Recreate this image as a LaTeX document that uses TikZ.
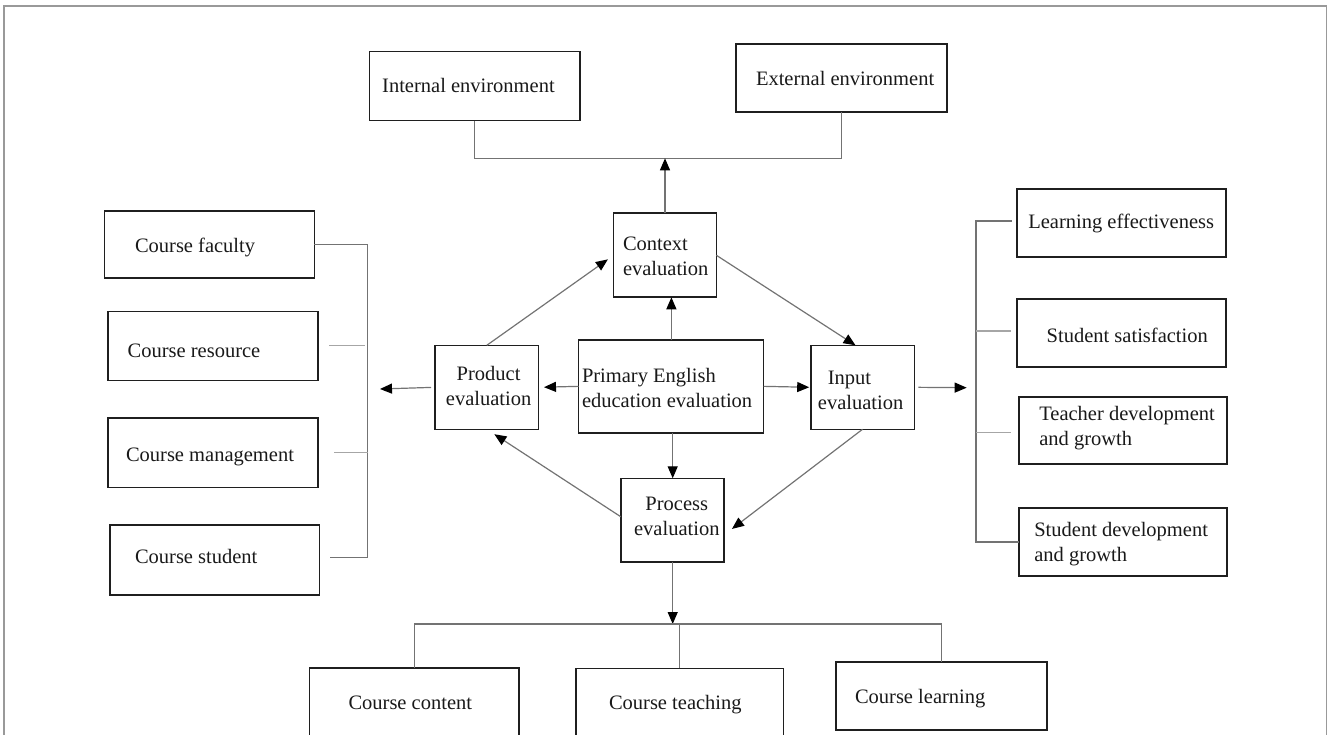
\documentclass[tikz,border=0pt]{standalone}
\usepackage{fontspec}
\setmainfont{Liberation Serif}
\usetikzlibrary{arrows.meta,fit}
\newcommand\mkbox[5]{\node[box, fit={(#2,#3) (#4,#5)}] (#1) {};}
\begin{document}
\begin{tikzpicture}[x=1pt,y=-1pt,
  box/.style={draw=black!88, line width=1.6pt, inner sep=0pt, outer sep=0pt},
  txt/.style={inner sep=0pt, outer sep=0pt, font=\fontsize{20.5}{25}\selectfont, text height=13pt, text depth=1pt, text=black!90},
  lt/.style={txt, anchor=west, align=left},
  ct/.style={txt, align=center},
  con/.style={draw=black!55, line width=1.2pt},
  stub/.style={draw=black!35, line width=1.2pt},
  arr/.style={draw=black!55, line width=1.2pt, -{Triangle[length=12pt,width=10pt,color=black]}},
  frame/.style={draw=black!40, line width=1.8pt}
]
\path[use as bounding box] (0,0) rectangle (1328,735);
\clip (0,0) rectangle (1328,735);

% frame
\draw[frame] (4,740) -- (4,6) -- (1326.5,6) -- (1326.5,740);

% boxes
\mkbox{ie}{369.6}{51.7}{580}{120.7}
\mkbox{ee}{735.8}{44.3}{946.7}{112.3}
\mkbox{ctx}{613.6}{213.3}{716.4}{297.3}
\mkbox{prod}{435}{345.3}{538.6}{429.3}
\mkbox{prim}{578.6}{340}{763.6}{432.7}
\mkbox{inp}{810.7}{345.3}{914.3}{429.3}
\mkbox{proc}{620.7}{478.3}{724}{561.7}
\mkbox{cf}{104.3}{211}{314.3}{278.3}
\mkbox{cr}{107.7}{311.7}{318}{380.3}
\mkbox{cm}{107.7}{418}{318}{487.3}
\mkbox{cs}{110}{525}{319.3}{595}
\mkbox{le}{1016.7}{189}{1225.7}{257}
\mkbox{ss}{1017}{299}{1226}{366.7}
\mkbox{td}{1019}{396.7}{1227}{464}
\mkbox{sd}{1019}{508}{1227}{576}
\mkbox{cc}{309.5}{667.7}{519}{760}
\mkbox{cte}{576}{668.3}{783.5}{760}
\mkbox{cl}{836}{661.7}{1046.8}{730}

% texts
\node[lt] (tie) at (382.2,86.7) {Internal environment};
\node[lt] (tee) at (756,80) {External environment};
\node[lt] (tctx) at (623,269.2) {Context\\evaluation};
\node[ct] (tprod) at (488.6,399.5) {Product\\evaluation};
\node[lt] (tprim) at (582,401.2) {Primary English\\education evaluation};
\node[lt] (tinp) at (817.9,403.7) {\hspace{10pt}Input\\evaluation};
\node[ct] (tproc) at (676.8,529.5) {Process\\evaluation};
\node[lt] (tcf) at (135,246.7) {Course faculty};
\node[lt] (tcr) at (127.7,351.7) {Course resource};
\node[lt] (tcm) at (126,455) {Course management};
\node[lt] (tcs) at (135,557.3) {Course student};
\node[lt] (tle) at (1028.3,222.7) {Learning effectiveness};
\node[lt] (tss) at (1046.7,336) {Student satisfaction};
\node[lt] (ttd) at (1039.3,439.2) {Teacher development\\and growth};
\node[lt] (tsd) at (1034.3,555.3) {Student development\\and growth};
\node[lt] (tcc) at (348.5,703) {Course content};
\node[lt] (tcte) at (609,703) {Course teaching};
\node[lt] (tcl) at (855,697) {Course learning};

% coordinates
\coordinate (tl) at (474.8,158.3);
\coordinate (tr) at (841.4,158.3);
\coordinate (lb) at (367.7,0);
\coordinate (rb) at (976,0);
\coordinate (bb) at (672.7,624);
\coordinate (la) at (380,389);
\coordinate (ra) at (966.7,387.7);
\coordinate (crs) at (329.3,345.7);
\coordinate (crv) at (365,345.7);
\coordinate (cms) at (334.3,452.3);
\coordinate (css) at (330,557.3);

% top bracket
\draw[con] (ie.south -| tl) -- (tl) -- (tr) -- (ee.south -| tr);
\draw[arr] (ctx.north) -- (ctx.north |- tl);

% central arrows
\draw[arr] (prim.north -| 671.4,0) -- (ctx.south -| 671.4,0);
\draw[arr] (prim.south -| 672.7,0) -- (proc.north -| 672.7,0);
\draw[arr, shorten >=5.4pt] (prim.west) -- (prod.east);
\draw[arr, shorten >=1.5pt] (prim.east) -- (inp.west);
\draw[arr, shorten >=7pt] (prod.north) -- (ctx.west);
\draw[arr] (ctx.east) -- ([xshift=-7pt]inp.north);
\draw[arr, shorten >=10pt] (inp.south) -- ([yshift=-15pt]proc.east);
\draw[arr, shorten >=9pt] ([yshift=3.3pt]proc.west) -- (prod.south);
\draw[arr, shorten <=4pt] (prod.west) -- (la);
\draw[arr, shorten <=4pt] (inp.east) -- (ra);

% left bracket
\draw[con] (cf.east |- 0,244.3) -- (lb |- 0,244.3) -- (lb |- css) -- (css);
\draw[stub] (crs) -- (crv);
\draw[stub] (cms) -- (lb |- cms);

% right bracket
\draw[con] ([xshift=-5pt]le.west |- 0,221) -- (rb |- 0,221) -- (rb |- sd.west) -- (sd.west);
\draw[stub] (rb |- 0,331) -- ([xshift=-6pt]ss.west |- 0,331);
\draw[stub] (rb |- 0,432.7) -- ([xshift=-8pt]td.west |- 0,432.7);

% bottom bracket
\draw[arr] (proc.south -| bb) -- (bb);
\draw[con] (cc.north) -- (cc.north |- bb) -- (cl.north |- bb) -- (cl.north);
\draw[con] (cte.north) -- (cte.north |- bb);
\end{tikzpicture}
\end{document}
